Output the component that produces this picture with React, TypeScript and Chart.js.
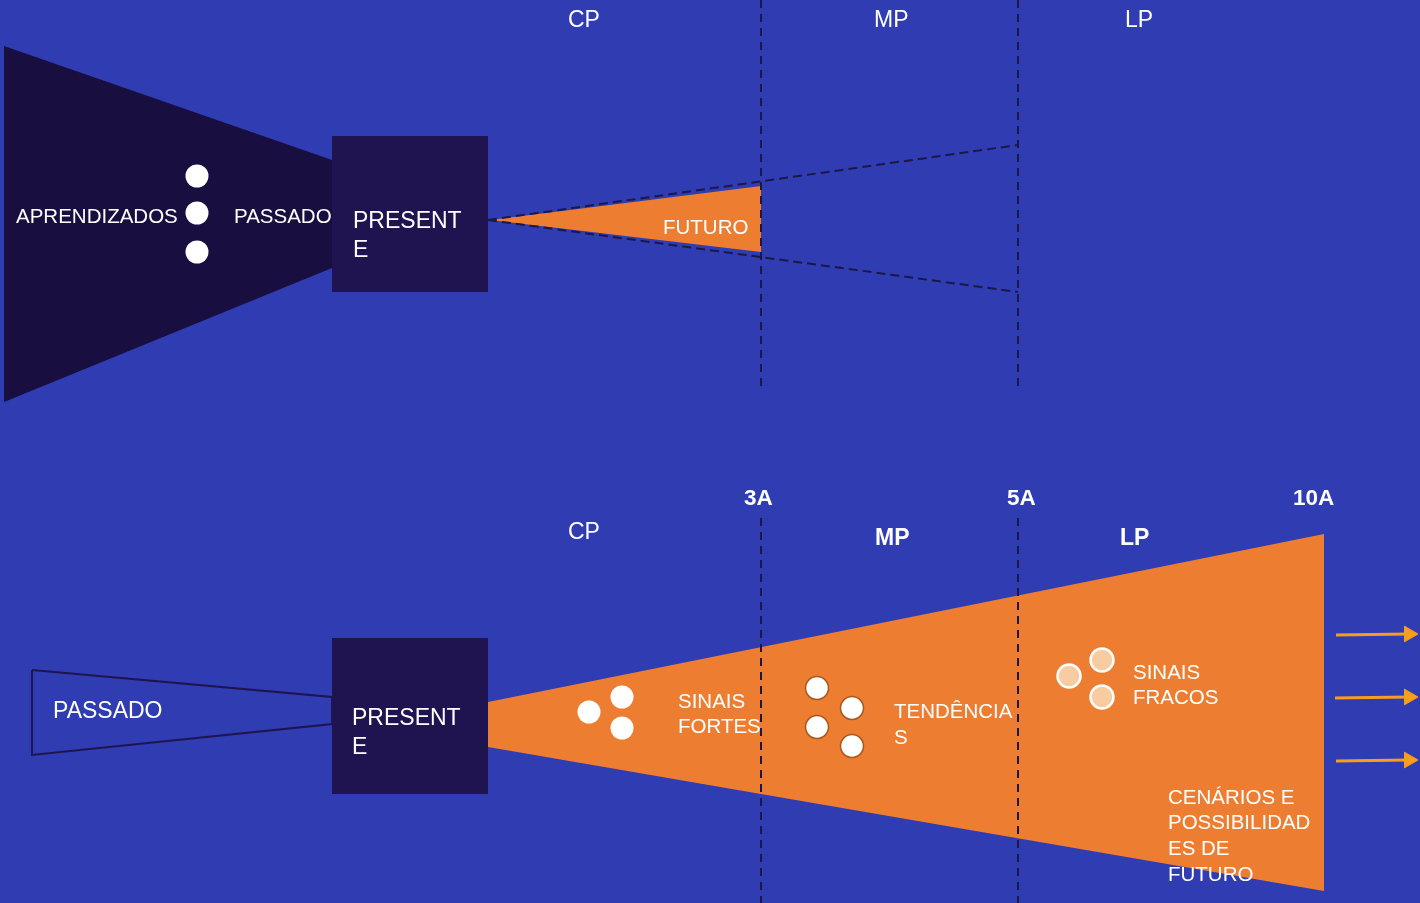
import React, { useEffect, useRef } from 'react';
import { Chart, registerables } from 'chart.js';

Chart.register(...registerables);

// ---------- Diagram geometry (diagram units = 1420 x 903 board) ----------
// Top diagram
const pastFunnelTop = [[4, 46], [332, 160], [332, 268], [4, 402]];
const presentBoxTop = [[332, 136], [488, 136], [488, 292], [332, 292]];
const futureConeTop = [[490, 220], [761, 186], [761, 252]];
const futureGuideUpper = [[488, 220], [1018, 145]];
const futureGuideLower = [[488, 220], [1018, 292]];
const horizonTopX = [761, 1018];
const horizonTopY = [0, 388];
const learningDots = [[197, 176], [197, 213], [197, 252]];

// Bottom diagram
const pastWedge = [[32, 670], [332, 697], [332, 724], [32, 755]];
const presentBoxBottom = [[332, 638], [488, 638], [488, 794], [332, 794]];
const futureFunnel = [[488, 702], [1324, 534], [1324, 891], [488, 747]];
const horizonBottomX = [761, 1018];
const horizonBottomY = [518, 903];
const strongSignals = [[589, 712], [622, 697], [622, 728]];
const trendDots = [[817, 688], [852, 708], [817, 727], [852, 746]];
const weakSignals = [[1069, 676], [1102, 660], [1102, 697]];
const arrowStarts = [[1336, 635], [1335, 698], [1336, 761]];
const arrowEnds = [[1409, 634], [1409, 697], [1409, 760]];

// ---------- Texts ----------
const topPeriods = ['CP', 'MP', 'LP'];
const bottomPeriods = ['CP', 'MP', 'LP'];
const yearMarks = ['3A', '5A', '10A'];
const presentLines = ['PRESENT', 'E'];
const topPastTexts = ['APRENDIZADOS', 'PASSADO'];
const futureText = 'FUTURO';
const bottomPastText = 'PASSADO';
const strongLines = ['SINAIS', 'FORTES'];
const trendLines = ['TENDÊNCIA', 'S'];
const weakLines = ['SINAIS', 'FRACOS'];
const scenarioLines = ['CENÁRIOS E', 'POSSIBILIDAD', 'ES DE', 'FUTURO'];

// ---------- Colours ----------
const BG = '#2f3cb2';
const DARK = '#190e40';
const BOX = '#1f1450';
const ORANGE = '#ed7d31';
const DASH = '#1b1848';
const ARROW = '#f99d1c';

const FONT = '"Liberation Sans", Arial, Helvetica, sans-serif';

const pts = (a: number[][]) => a.map(([x, y]) => ({ x, y }));
const closed = (a: number[][]) => pts([...a, a[0]]);

function polygon(a: number[][], color: string) {
  return {
    data: closed(a),
    showLine: true,
    fill: 'shape',
    backgroundColor: color,
    borderColor: 'rgba(0,0,0,0)',
    borderWidth: 0,
    pointRadius: 0,
    pointHoverRadius: 0,
    tension: 0,
  };
}

function dashed(a: number[][], dash: number[]) {
  return {
    data: pts(a),
    showLine: true,
    fill: false,
    borderColor: DASH,
    borderWidth: 2,
    borderDash: dash,
    pointRadius: 0,
    pointHoverRadius: 0,
  };
}

function dots(a: number[][], fill: string, border: string, bw: number, r: number) {
  return {
    data: pts(a),
    showLine: false,
    backgroundColor: fill,
    borderColor: border,
    borderWidth: bw,
    pointRadius: r,
    pointHoverRadius: r,
  };
}

type Label = { t: string; x: number; y: number; size: number; bold?: boolean };

const TEXT_DY = 2.5;

function buildLabels(): Label[] {
  const L: Label[] = [];
  const topPeriodX = [568, 874, 1125];
  topPeriods.forEach((t, i) => L.push({ t, x: topPeriodX[i], y: 18, size: 23 }));
  L.push({ t: topPastTexts[0], x: 16, y: 215, size: 20.5 });
  L.push({ t: topPastTexts[1], x: 234, y: 215, size: 20.5 });
  L.push({ t: presentLines[0], x: 353, y: 219, size: 23 });
  L.push({ t: presentLines[1], x: 353, y: 248, size: 23 });
  L.push({ t: futureText, x: 663, y: 226, size: 20.5 });

  const yearX = [744, 1007, 1293];
  yearMarks.forEach((t, i) => L.push({ t, x: yearX[i], y: 496, size: 22.5, bold: true }));
  L.push({ t: bottomPeriods[0], x: 568, y: 530, size: 23 });
  L.push({ t: bottomPeriods[1], x: 875, y: 536, size: 23, bold: true });
  L.push({ t: bottomPeriods[2], x: 1120, y: 536, size: 23, bold: true });
  L.push({ t: bottomPastText, x: 53, y: 709, size: 23 });
  L.push({ t: presentLines[0], x: 352, y: 716, size: 23 });
  L.push({ t: presentLines[1], x: 352, y: 745, size: 23 });
  strongLines.forEach((t, i) => L.push({ t, x: 678, y: 699.5 + i * 25, size: 20.5 }));
  trendLines.forEach((t, i) => L.push({ t, x: 894, y: 709.5 + i * 26, size: 20.5 }));
  weakLines.forEach((t, i) => L.push({ t, x: 1133, y: 670.5 + i * 25, size: 20.5 }));
  scenarioLines.forEach((t, i) => L.push({ t, x: 1168, y: 795.5 + i * 25.7, size: 20.5 }));
  return L;
}

const bgPlugin = {
  id: 'bg',
  beforeDraw(chart: any) {
    const { ctx, width, height } = chart;
    ctx.save();
    ctx.fillStyle = BG;
    ctx.fillRect(0, 0, width, height);
    ctx.restore();
  },
};

const textPlugin = {
  id: 'texts',
  afterDatasetsDraw(chart: any) {
    const { ctx, scales } = chart;
    const labels = buildLabels();
    ctx.save();
    ctx.fillStyle = '#ffffff';
    ctx.textAlign = 'left';
    ctx.textBaseline = 'middle';
    for (const l of labels) {
      ctx.font = `${l.bold ? 'bold ' : ''}${l.size}px ${FONT}`;
      ctx.fillText(l.t, scales.x.getPixelForValue(l.x), scales.y.getPixelForValue(l.y + TEXT_DY));
    }
    ctx.restore();
  },
};

export default function App() {
  const ref = useRef<HTMLCanvasElement | null>(null);

  useEffect(() => {
    document.body.style.margin = '0';
    const canvas = ref.current;
    if (!canvas) return;

    const list: any[] = [
      polygon(pastFunnelTop, DARK),
      polygon(presentBoxTop, BOX),
      polygon(futureConeTop, ORANGE),
      dashed(futureGuideUpper, [9, 5]),
      dashed(futureGuideLower, [9, 5]),
      ...horizonTopX.map((x) => dashed(horizonTopY.map((y) => [x, y]), [8, 6])),
      dots(learningDots, '#ffffff', '#ffffff', 0, 11.5),
      polygon(futureFunnel, ORANGE),
      ...horizonBottomX.map((x) => dashed(horizonBottomY.map((y) => [x, y]), [8, 6])),
      {
        data: closed(pastWedge),
        showLine: true,
        fill: false,
        borderColor: BOX,
        borderWidth: 2,
        pointRadius: 0,
        pointHoverRadius: 0,
      },
      polygon(presentBoxBottom, BOX),
      dots(strongSignals, '#ffffff', '#ffffff', 0, 11.5),
      dots(trendDots, '#ffffff', '#a8571a', 1.5, 11.5),
      dots(weakSignals, '#f8cba0', '#ffffff', 2.5, 11.5),
      ...arrowStarts.map((s, i) => ({
        data: pts([s, arrowEnds[i]]),
        showLine: true,
        fill: false,
        borderColor: ARROW,
        borderWidth: 3,
        pointRadius: [0, 9],
        pointHoverRadius: [0, 9],
        pointStyle: 'triangle',
        rotation: 90,
        pointBackgroundColor: ARROW,
        pointBorderColor: ARROW,
        pointBorderWidth: 1,
      })),
    ];
    const datasets = list.map((d, i) => ({ ...d, order: list.length - i, clip: false }));

    const chart = new Chart(canvas, {
      type: 'scatter',
      data: { datasets },
      options: {
        responsive: false,
        animation: false,
        events: [],
        layout: { padding: 0, autoPadding: false },
        plugins: { legend: { display: false }, tooltip: { enabled: false } },
        scales: {
          x: { type: 'linear', min: 0, max: 1420, display: false },
          y: { type: 'linear', min: 0, max: 903, reverse: true, display: false },
        },
      },
      plugins: [bgPlugin, textPlugin],
    } as any);

    return () => chart.destroy();
  }, []);

  return (
    <div style={{ position: 'absolute', left: 0, top: 0, width: 1420, height: 903 }}>
      <canvas ref={ref} width={1420} height={903} style={{ display: 'block', width: 1420, height: 903 }} />
    </div>
  );
}
